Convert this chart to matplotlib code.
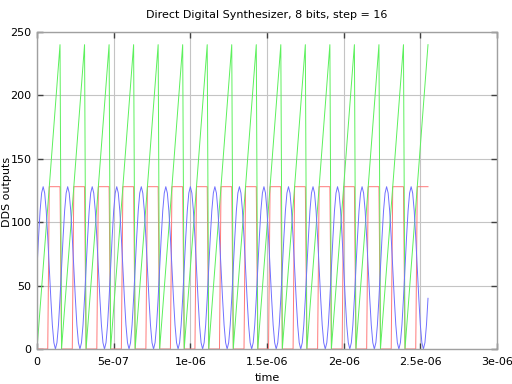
""" DDS output plot: phase accumulator, MSB square and sine lookup"""

import numpy as np
import matplotlib
matplotlib.use('Agg')
from matplotlib import pyplot as plt

# One period of the DDS tables (8 bits, step = 16)
phase_period = [0, 16, 32, 48, 64, 80, 96, 112, 128, 144, 160, 176, 192, 208, 224, 240]
square_period = [0, 0, 0, 0, 0, 0, 0, 0, 128, 128, 128, 128, 128, 128, 128, 128]
sine_period = [64, 88, 109, 123, 128, 123, 109, 88, 64, 40, 19, 5, 0, 5, 19, 40]
n_periods = 16
clock_period = 1e-8

x_ticks = [0, 5e-7, 1e-6, 1.5e-6, 2e-6, 2.5e-6, 3e-6]
x_tick_labels = ['0', '5e-07', '1e-06', '1.5e-06', '2e-06', '2.5e-06', '3e-06']
y_ticks = [0, 50, 100, 150, 200, 250]

phase = np.tile(phase_period, n_periods)
square = np.tile(square_period, n_periods)
sine = np.tile(sine_period, n_periods)
t = np.arange(len(phase)) * clock_period

fig = plt.figure(figsize=(5.12, 3.84), dpi=100)
ax = fig.add_axes([0.0723, 0.0911, 0.8984, 0.8256])

ax.plot(t, square, color='#ff7878', lw=0.7)
ax.plot(t, phase, color='#5cf05c', lw=0.7)
ax.plot(t, sine, color='#7070ff', lw=0.7)

ax.set_xlim(0, 3e-6)
ax.set_ylim(0, 250)
ax.set_xticks(x_ticks)
ax.set_xticklabels(x_tick_labels)
ax.set_yticks(y_ticks)
ax.grid(True, color='#c4c4c4', lw=0.8)
ax.set_axisbelow(True)
for sp in ax.spines.values():
    sp.set_color('#a0a0a0')
    sp.set_linewidth(1.0)
ax.tick_params(direction='in', length=4, width=1, color='#404040',
               labelsize=8, top=True, right=True)
ax.tick_params(axis='x', pad=6)
ax.tick_params(axis='y', pad=4)

# Label me
ax.set_title('Direct Digital Synthesizer, 8 bits, step = 16', fontsize=8, pad=10)
ax.set_xlabel('time', fontsize=8, labelpad=4)
fig.text(0.014, 0.5, 'DDS outputs', rotation=90, fontsize=8,
         ha='center', va='center')

fig.savefig('out.png', dpi=100)
